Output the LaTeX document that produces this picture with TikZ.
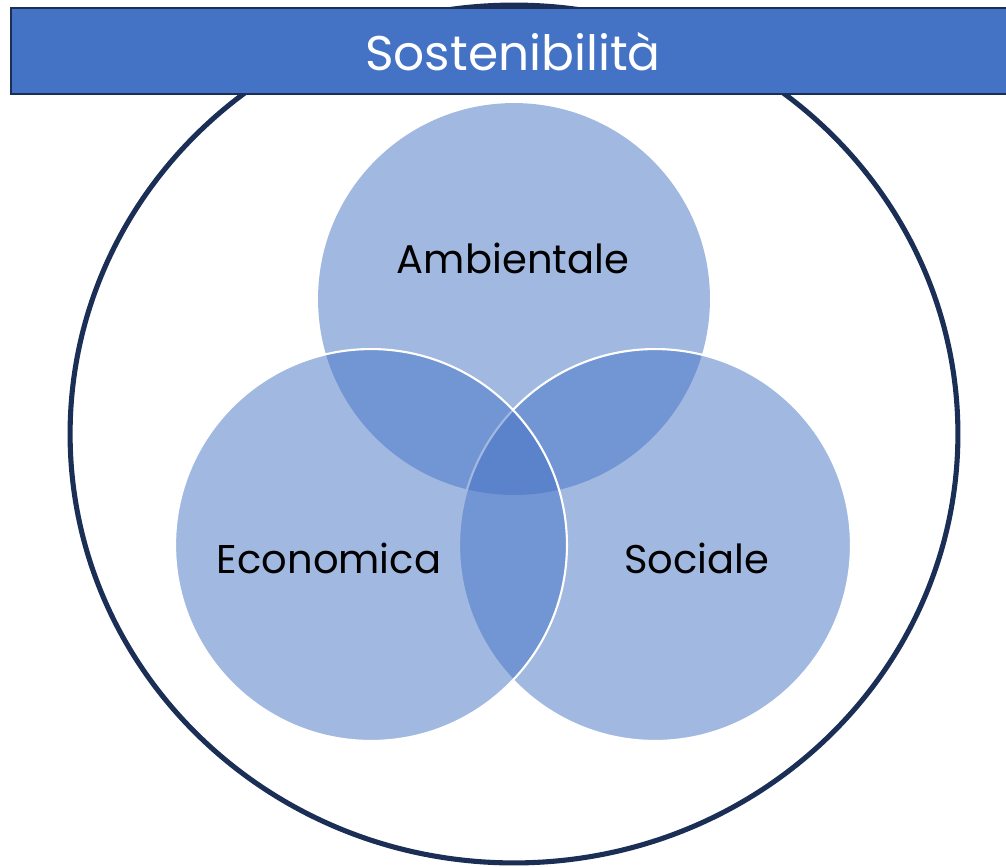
\documentclass[tikz,border=0pt]{standalone}
\usepackage{fontspec}
\setmainfont{Poppins}
\usepackage{xcolor}
\usetikzlibrary{shapes.geometric, positioning}
\definecolor{navy}{HTML}{1A2E56}
\definecolor{accent}{HTML}{4472C4}

\begin{document}
\begin{tikzpicture}[
    x=0.02cm, y=-0.02cm,
    ring/.style={draw=navy, line width=2.9pt, ellipse, minimum width=17.76cm, minimum height=17.16cm, inner sep=0pt},
    banner/.style={draw=navy, line width=1.1pt, fill=accent, rectangle, minimum width=20.1cm, minimum height=1.72cm, inner sep=0pt},
    venn/.style={circle, minimum size=7.84cm, inner sep=0pt, fill=accent, fill opacity=0.5},
    lbl/.style={anchor=base, font=\fontsize{22.8}{27}\selectfont, text=black}
]
\useasboundingbox (0,0) rectangle (1006,866);

% Frame
\node (frame) [ring] at (514,434) {};
\node (title) [banner] at (513.5,51) {};
\node [anchor=base, text=white, font=\fontsize{27.7}{32}\selectfont] at (513,70) {Sostenibilità};

% Circles
\node (amb) [venn] at (514,299) {};
\node (soc) [venn, draw=white, line width=1.2pt] at (655,545) {};
\node (eco) [venn, draw=white, line width=1.2pt] at (371,545) {};

% Labels
\node (tamb) [lbl] at (513,273) {Ambientale};
\node (teco) [lbl] at (329,573) {Economica};
\node (tsoc) [lbl] at (697,573) {Sociale};

\end{tikzpicture}
\end{document}
